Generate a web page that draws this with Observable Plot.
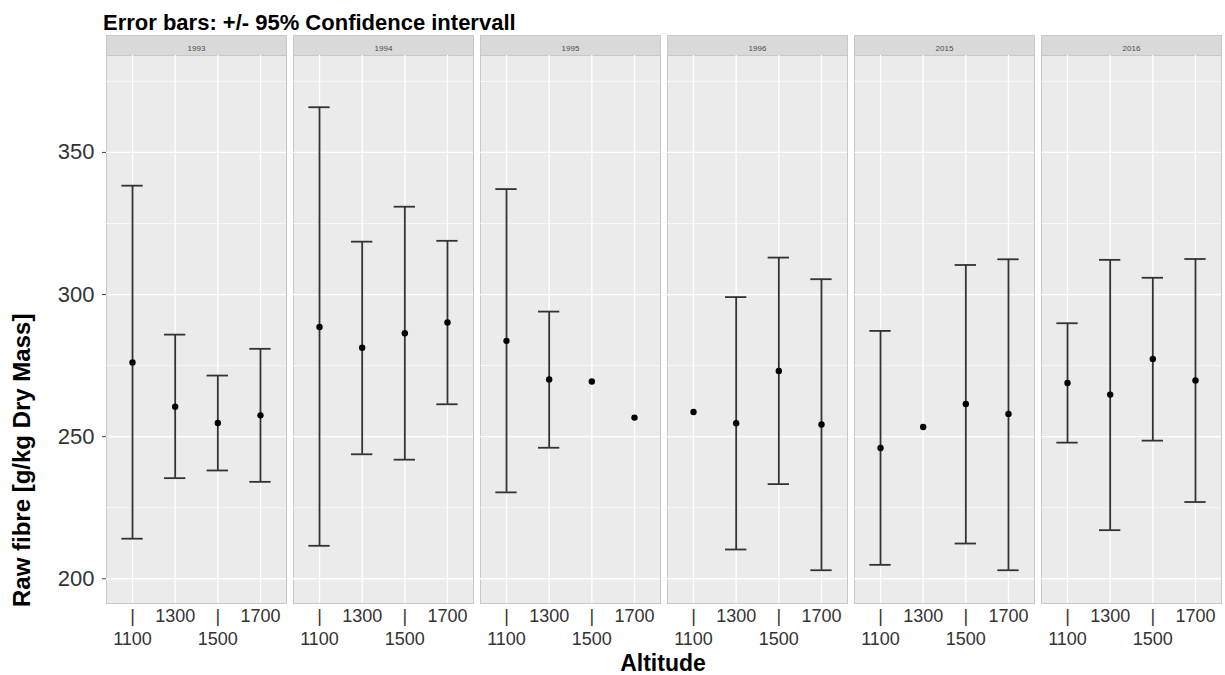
<!DOCTYPE html>
<html><head><meta charset="utf-8">
<script src="https://cdn.jsdelivr.net/npm/d3@7"></script>
<script src="https://cdn.jsdelivr.net/npm/@observablehq/plot@0.6"></script>
<style>
html,body{margin:0;padding:0;background:#fff;}
body{font-family:"Liberation Sans",Arial,sans-serif;width:1225px;height:675px;position:relative;overflow:hidden;}
#title{position:absolute;left:103px;top:12px;font-weight:bold;font-size:22px;line-height:22px;color:#000;white-space:nowrap;z-index:2;}
#chart{position:absolute;left:0;top:32px;}
</style></head><body>
<div id="chart"></div>
<div id="title">Error bars: +/- 95% Confidence intervall</div>
<script>
// ---- data ----
const years = ["1993", "1994", "1995", "1996", "2015", "2016"];
const altitudes = [1100, 1300, 1500, 1700];
const yTicks = [200, 250, 300, 350];
const yMinor = [225, 275, 325, 375];
// one row per year (order of altitudes above)
const meanVals = [
  [276.1, 260.5, 254.8, 257.5],
  [288.6, 281.3, 286.4, 290.2],
  [283.7, 270.1, 269.4, 256.7],
  [258.7, 254.7, 273.1, 254.3],
  [246.0, 253.4, 261.5, 258.0],
  [268.9, 264.8, 277.3, 269.8]
];
const lowerVals = [
  [214.1, 235.4, 238.1, 234.1],
  [211.6, 243.8, 241.9, 261.4],
  [230.4, 246.1, null, null],
  [null, 210.3, 233.3, 203.0],
  [204.9, null, 212.4, 203.0],
  [247.9, 217.1, 248.6, 227.0]
];
const upperVals = [
  [338.3, 285.9, 271.5, 280.9],
  [365.9, 318.6, 330.9, 318.9],
  [337.1, 294.0, null, null],
  [null, 299.1, 313.0, 305.4],
  [287.2, null, 310.4, 312.4],
  [289.9, 312.2, 305.9, 312.5]
];
const capHalfWidth = 50; // error-bar cap half width in altitude units

const rows = [];
years.forEach((yr, i) => altitudes.forEach((alt, j) => {
  rows.push({year: yr, alt, mean: meanVals[i][j], lo: lowerVals[i][j], hi: upperVals[i][j]});
}));
const barRows = rows.filter(d => d.lo != null && d.hi != null);

const W = 1225, H = 643, MT = 23, MB = 72;
const panelH = H - MT - MB;
const font = "Liberation Sans, Arial, Helvetica, sans-serif";
const ink = "#333333";

const chart = Plot.plot({
  width: W, height: H,
  marginLeft: 104, marginRight: 3, marginTop: MT, marginBottom: MB,
  style: {fontFamily: font, background: "transparent", color: ink, overflow: "visible"},
  fx: {domain: years, paddingInner: 0.04, paddingOuter: 0, axis: null, label: null},
  x: {type: "linear", domain: [978, 1822], label: null},
  y: {domain: [191.3, 384.1], label: null},
  marks: [
    Plot.frame({fill: "#ebebeb", stroke: "#c8c8c8", strokeWidth: 1}),
    Plot.frame({fill: "#d9d9d9", stroke: "#c8c8c8", strokeWidth: 1, insetTop: -20, insetBottom: panelH}),
    Plot.text(years, {fx: d => d, text: d => d, frameAnchor: "top", dy: -10, fontSize: 8, fill: "#4d4d4d"}),
    Plot.gridY(yMinor, {stroke: "white", strokeOpacity: 1, strokeWidth: 0.6}),
    Plot.gridY(yTicks, {stroke: "white", strokeOpacity: 1, strokeWidth: 1.3}),
    Plot.gridX(altitudes, {stroke: "white", strokeOpacity: 1, strokeWidth: 1.3}),
    Plot.ruleX(barRows, {fx: "year", x: "alt", y1: "lo", y2: "hi", stroke: ink, strokeWidth: 1.8}),
    Plot.ruleY(barRows, {fx: "year", y: "hi", x1: d => d.alt - capHalfWidth, x2: d => d.alt + capHalfWidth, stroke: ink, strokeWidth: 1.8}),
    Plot.ruleY(barRows, {fx: "year", y: "lo", x1: d => d.alt - capHalfWidth, x2: d => d.alt + capHalfWidth, stroke: ink, strokeWidth: 1.8}),
    Plot.dot(rows, {fx: "year", x: "alt", y: "mean", r: 3.2, fill: "black", stroke: "none"}),
    Plot.axisY({ticks: yTicks, tickSize: 4, tickPadding: 8, fontSize: 22, stroke: "#444", fill: ink, label: null, facetAnchor: "left"}),
    Plot.axisX({ticks: altitudes, tickSize: 0, tickPadding: 3, fontSize: 18, lineHeight: 1.25, fill: ink,
      tickFormat: d => (d === 1100 || d === 1500) ? "|\n" + d : String(d), label: null})
  ]
});
document.getElementById("chart").appendChild(chart);

const svg = d3.select(chart);
svg.append("text")
  .attr("x", 663).attr("y", 639)
  .attr("text-anchor", "middle")
  .attr("font-family", font).attr("font-weight", "bold").attr("font-size", 23)
  .attr("fill", "#000")
  .text("Altitude");
svg.append("text")
  .attr("transform", "translate(30,575) rotate(-90)")
  .attr("text-anchor", "start")
  .attr("font-family", font).attr("font-weight", "bold").attr("font-size", 24)
  .attr("fill", "#000")
  .text("Raw fibre [g/kg Dry Mass]");
</script>
</body></html>
